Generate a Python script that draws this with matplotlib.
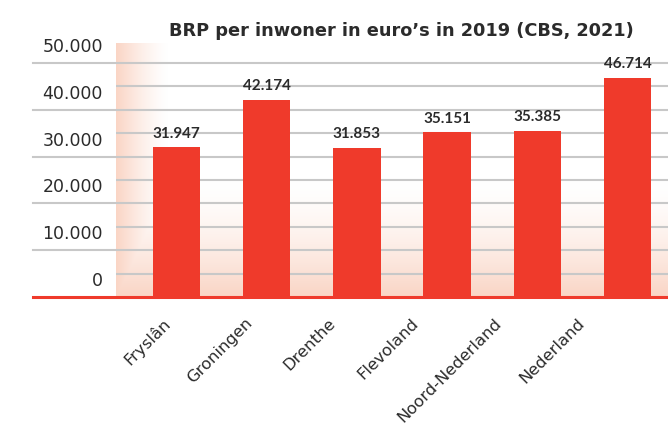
import numpy as np
import matplotlib
matplotlib.use("Agg")
import matplotlib.pyplot as plt
from matplotlib.transforms import ScaledTranslation, blended_transform_factory

# data
categories = ["Fryslân", "Groningen", "Drenthe", "Flevoland", "Noord-Nederland", "Nederland"]
brp = [31947, 42174, 31853, 35151, 35385, 46714]
value_labels = ["31.947", "42.174", "31.853", "35.151", "35.385", "46.714"]
yticks = [0, 10000, 20000, 30000, 40000, 50000]
ytick_labels = ["0", "10.000", "20.000", "30.000", "40.000", "50.000"]
title = "BRP per inwoner in euro’s in 2019 (CBS, 2021)"

RED = "#EF3A2B"
PINK = np.array([250, 213, 197]) / 255
GRID = "#C8C8C8"
TEXT = "#2B2B2B"

fig = plt.figure(figsize=(6.68, 4.38), dpi=100)
ax = fig.add_axes([116 / 668, 141 / 438, 552 / 668, 254 / 438])

# background gradient (left edge + bottom), in axes coordinates
W, H = 552, 254
xx = np.arange(W)[None, :]
yy = np.arange(H)[:, None]
i_left = np.clip(1 - xx / 52, 0, 1) ** 1.4
i_bot = np.clip(1 - (H - 1 - yy) / 115, 0, 1) ** 1.5
inten = np.maximum(i_left, i_bot)[..., None]
img = (1 - inten) * np.ones(3) + inten * PINK
ax.imshow(img, extent=(0, 1, 0, 1), transform=ax.transAxes, aspect="auto", zorder=0)

x = np.arange(len(categories))
ax.bar(x, brp, width=0.527, color=RED, zorder=3)

for xi, v, lab in zip(x, brp, value_labels):
    ax.annotate(lab, (xi, v), xytext=(0, 5), textcoords="offset points",
                ha="center", va="bottom", fontsize=11, fontweight="bold",
                family="Lato", color=TEXT, zorder=4)

ax.set_xlim(-0.671, 5.449)
ax.set_ylim(0, 54270)

# gridlines: major ones run into the label area, minor ones stay in the plot
blend = blended_transform_factory(ax.transAxes, ax.transData)
left_ext = (33 - 116) / 552
for t in yticks[1:]:
    ax.plot([left_ext, 1], [t, t], transform=blend, color=GRID, lw=1.5,
            clip_on=False, zorder=1)
for t in np.array(yticks[:-1]) + 5000:
    ax.axhline(t, color=GRID, lw=1.5, zorder=1)
ax.plot([left_ext, 1], [0, 0], transform=blend, color=RED, lw=2.2,
        clip_on=False, zorder=5)

for s in ax.spines.values():
    s.set_visible(False)

ax.set_yticks(yticks, ytick_labels, fontsize=12.5, color=TEXT)
ax.tick_params(axis="y", length=0, pad=9.5)
for lab in ax.get_yticklabels():
    lab.set_va("bottom")
    lab.set_transform(lab.get_transform() + ScaledTranslation(0, 5 / 72, fig.dpi_scale_trans))

label_pos = x * 0.92 - 0.1
ax.set_xticks(label_pos, categories, rotation=45, ha="right", va="center",
              rotation_mode="anchor", fontsize=11.8, color=TEXT)
ax.tick_params(axis="x", length=0, pad=17)

fig.text(401 / 668, 1 - 36 / 438, title, ha="center", va="baseline",
         fontsize=12.8, fontweight="bold", family="DejaVu Sans", color=TEXT)

fig.savefig("out.png", dpi=100)
